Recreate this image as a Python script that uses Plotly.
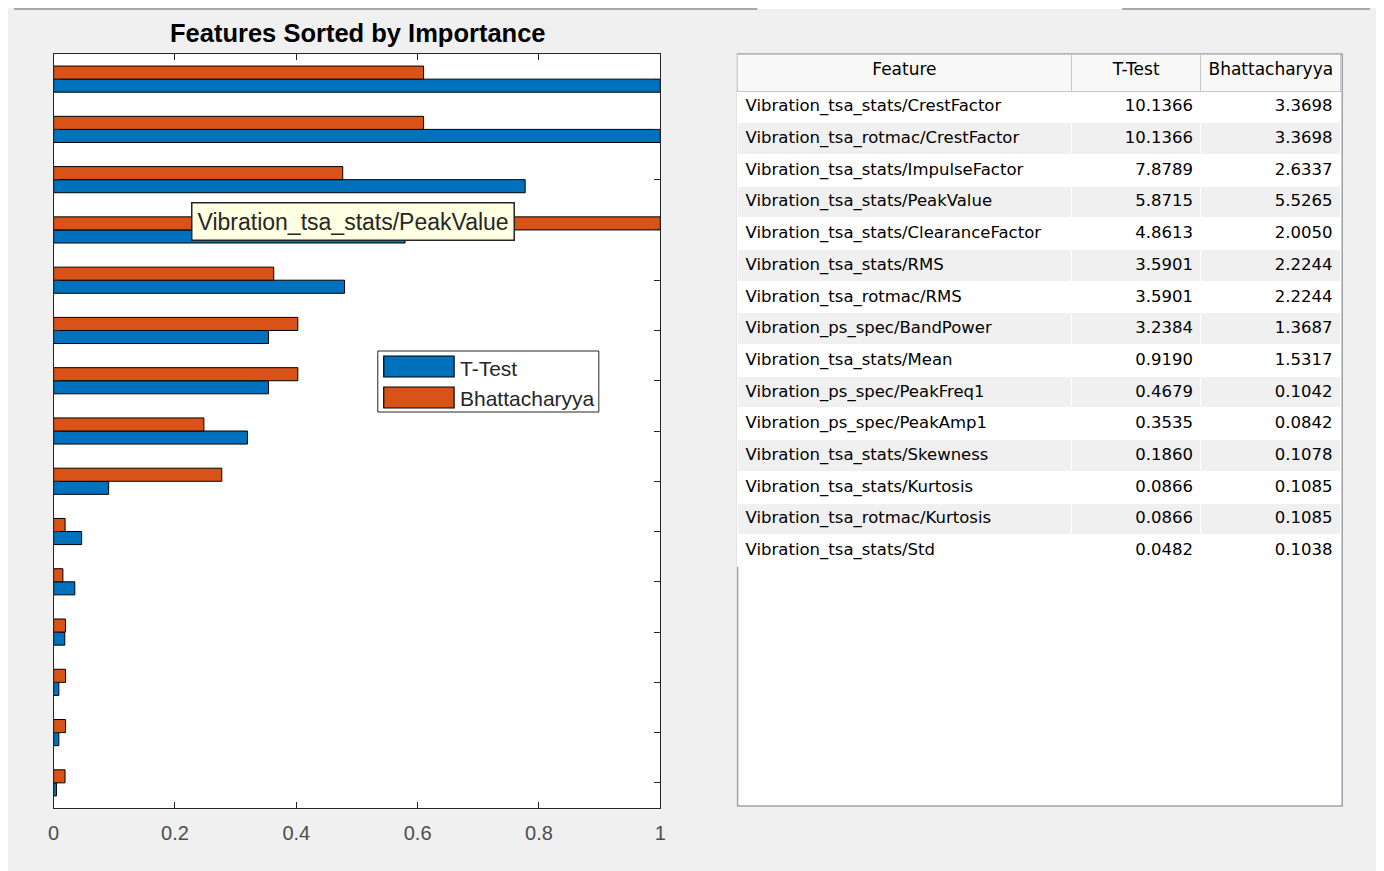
import plotly.graph_objects as go

# feature ranking values as shown in the table
features = [
    "Vibration_tsa_stats/CrestFactor",
    "Vibration_tsa_rotmac/CrestFactor",
    "Vibration_tsa_stats/ImpulseFactor",
    "Vibration_tsa_stats/PeakValue",
    "Vibration_tsa_stats/ClearanceFactor",
    "Vibration_tsa_stats/RMS",
    "Vibration_tsa_rotmac/RMS",
    "Vibration_ps_spec/BandPower",
    "Vibration_tsa_stats/Mean",
    "Vibration_ps_spec/PeakFreq1",
    "Vibration_ps_spec/PeakAmp1",
    "Vibration_tsa_stats/Skewness",
    "Vibration_tsa_stats/Kurtosis",
    "Vibration_tsa_rotmac/Kurtosis",
    "Vibration_tsa_stats/Std",
]
ttest = [10.1366, 10.1366, 7.8789, 5.8715, 4.8613, 3.5901, 3.5901, 3.2384,
         0.9190, 0.4679, 0.3535, 0.1860, 0.0866, 0.0866, 0.0482]
bhatt = [3.3698, 3.3698, 2.6337, 5.5265, 2.0050, 2.2244, 2.2244, 1.3687,
         1.5317, 0.1042, 0.0842, 0.1078, 0.1085, 0.1085, 0.1038]
xticks = [0, 0.2, 0.4, 0.6, 0.8, 1]
tooltip = "Vibration_tsa_stats/PeakValue"

# bar chart shows each score normalised by its own maximum
ttest_n = [v / max(ttest) for v in ttest]
bhatt_n = [v / max(bhatt) for v in bhatt]
pos = list(range(len(features)))

# the page body keeps its 8px white margin, which gives the white strip
# at the top/left of the screenshot; layout positions below are in
# screenshot pixels and get shifted into figure coordinates
OFF = 8
W, H = 1384 - 2 * OFF, 871 - OFF
px = lambda v: (v - OFF) / W
py = lambda v: (H - (v - OFF)) / H

BLUE = "#0072BD"
ORANGE = "#D95319"
FONT = "Liberation Sans"
TFONT = "DejaVu Sans"

fig = go.Figure()

fig.add_trace(go.Bar(
    y=pos, x=ttest_n, orientation="h", name="T-Test",
    marker=dict(color=BLUE, line=dict(color="#000000", width=1)),
    width=0.26, offset=0, hoverinfo="skip", showlegend=False,
))
fig.add_trace(go.Bar(
    y=pos, x=bhatt_n, orientation="h", name="Bhattacharyya",
    marker=dict(color=ORANGE, line=dict(color="#000000", width=1)),
    width=0.26, offset=-0.26, hoverinfo="skip", showlegend=False,
))

# table on the right
row_fill = ["#ffffff" if i % 2 == 0 else "#f0f0f0" for i in range(len(features))]
fig.add_trace(go.Table(
    domain=dict(x=[px(738), px(1347)], y=[py(806), py(54)]),
    columnwidth=[337, 131, 141],
    header=dict(
        values=["Feature", "T-Test", "Bhattacharyya"],
        align="center", height=37,
        fill=dict(color="#f8f8f8"),
        line=dict(color="#c8c8c8", width=1),
        font=dict(family=TFONT, size=17, color="#000000"),
    ),
    cells=dict(
        values=[features, [f"{v:.4f}" for v in ttest], [f"{v:.4f}" for v in bhatt]],
        align=["left", "right", "right"], height=31.7,
        fill=dict(color=[row_fill] * 3),
        line=dict(color="#ffffff", width=1),
        font=dict(family=TFONT, size=16.5, color="#000000"),
    ),
))

shapes = [
    # window chrome lines along the top
    dict(type="line", xref="paper", yref="paper", x0=0, x1=px(758), y0=py(9), y1=py(9),
         line=dict(color="#a8a8a8", width=2)),
    dict(type="line", xref="paper", yref="paper", x0=px(758), x1=px(1126), y0=py(8.5), y1=py(8.5),
         line=dict(color="#ffffff", width=1)),
    dict(type="line", xref="paper", yref="paper", x0=px(1126), x1=1, y0=py(9), y1=py(9),
         line=dict(color="#a8a8a8", width=2)),
    # table frame
    dict(type="rect", xref="paper", yref="paper", x0=px(738), x1=px(1348), y0=py(806), y1=py(54),
         fillcolor="white", line=dict(color="#a0a0a8", width=1.5), layer="below"),
    # legend box and swatches
    dict(type="rect", xref="paper", yref="paper", x0=px(375), x1=px(598), y0=py(412), y1=py(351),
         fillcolor="white", line=dict(color="#262626", width=1)),
    dict(type="rect", xref="paper", yref="paper", x0=px(381), x1=px(452), y0=py(377), y1=py(356),
         fillcolor=BLUE, line=dict(color="#000000", width=1.2)),
    dict(type="rect", xref="paper", yref="paper", x0=px(381), x1=px(452), y0=py(408), y1=py(387),
         fillcolor=ORANGE, line=dict(color="#000000", width=1.2)),
]

annotations = [
    dict(text="<b>Features Sorted by Importance</b>", xref="paper", yref="paper",
         x=px(355), y=py(33), xanchor="center", yanchor="middle", showarrow=False,
         font=dict(family=FONT, size=25.5, color="#000000")),
    dict(text=tooltip, xref="paper", yref="paper", x=px(350), y=py(221),
         xanchor="center", yanchor="middle",
         showarrow=False, bgcolor="#ffffe1", bordercolor="#262626", borderwidth=1.5,
         borderpad=5, font=dict(family=FONT, size=23, color="#262626")),
    dict(text="T-Test", xref="paper", yref="paper", x=px(456), y=py(368),
         xanchor="left", yanchor="middle", showarrow=False,
         font=dict(family=FONT, size=21, color="#262626")),
    dict(text="Bhattacharyya", xref="paper", yref="paper", x=px(456), y=py(398),
         xanchor="left", yanchor="middle", showarrow=False,
         font=dict(family=FONT, size=21, color="#262626")),
]

fig.update_layout(
    width=W, height=H,
    margin=dict(l=0, r=0, t=0, b=0),
    paper_bgcolor="#f0f0f0", plot_bgcolor="white",
    barmode="overlay", showlegend=False,
    font=dict(family=FONT, color="#404040"),
    shapes=shapes, annotations=annotations,
    xaxis=dict(
        domain=[px(48), px(660)], range=[0, 1], tickvals=xticks,
        ticktext=[f"{v:g}" for v in xticks],
        ticks="inside", ticklen=6, tickcolor="#262626", mirror="ticks",
        showline=True, linecolor="#262626", linewidth=1.3,
        showgrid=False, zeroline=False, ticklabelstandoff=7,
        tickfont=dict(size=20, color="#4d4d4d"),
    ),
    yaxis=dict(
        domain=[py(808), py(54)], range=[len(features) - 0.5, -0.5],
        tickvals=pos, showticklabels=False,
        ticks="inside", ticklen=6, tickcolor="#262626", mirror="ticks",
        showline=True, linecolor="#262626", linewidth=1.3,
        showgrid=False, zeroline=False,
    ),
)

fig.write_html("out.html")
